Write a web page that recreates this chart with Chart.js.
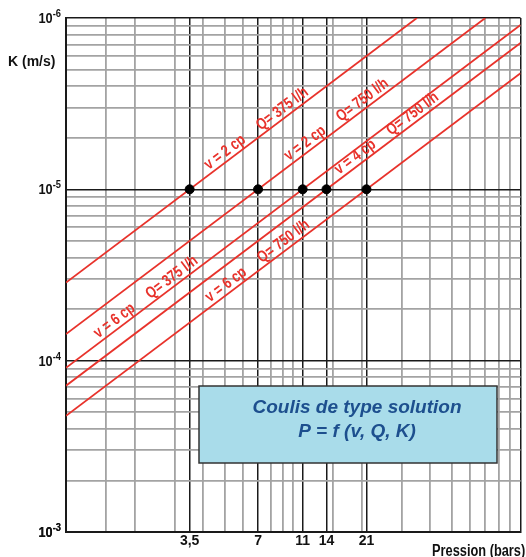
<!DOCTYPE html>
<html>
<head>
<meta charset="utf-8">
<script src="https://cdn.jsdelivr.net/npm/chart.js@4.4.1/dist/chart.umd.min.js"></script>
<style>
  html, body { margin: 0; padding: 0; background: #fff; }
  #wrap { width: 526px; height: 557px; }
</style>
</head>
<body>
<div id="wrap"><canvas id="chart" width="526" height="557"></canvas></div>
<script>
// Points where each curve crosses K = 1e-5
const dotPressure = [3.5, 7, 11, 14, 21];
const dotK = [1e-5, 1e-5, 1e-5, 1e-5, 1e-5];

// Red curves: endpoints (left edge -> top/right edge)
const lineStartP = [1, 1, 1, 1, 1];
const lineStartK = [3.5e-5, 7e-5, 1.1e-4, 1.4e-4, 2.1e-4];
const lineEndP = [35, 70, 100, 100, 100];
const lineEndK = [1e-6, 1e-6, 1.1e-6, 1.4e-6, 2.1e-6];
const lineLabels = [
    'v = 2 cp     Q= 375 l/h',
    'v = 2 cp     Q= 750 l/h',
    'v = 6 cp     Q= 375 l/h',
    'v = 4 cp     Q= 750 l/h',
    'v = 6 cp     Q= 750 l/h'
];
const labelStartP = [4.35, 9.8, 1.42, 16.3, 4.4];

// Axis ticks
const xGrid = [1, 1.5, 2, 3, 3.5, 4, 5, 6, 7, 8, 9, 10, 11, 14, 15, 20, 21, 30, 40, 50, 60, 70, 80, 90, 100];
const xLabelled = [3.5, 7, 11, 14, 21];
const xDark = [1, 3.5, 7, 11, 14, 21, 100];
const yDecades = [1e-6, 1e-5, 1e-4];
const yMantissas = [1, 2, 3, 4, 5, 6, 7, 8, 9];

const yGrid = [1e-3];
yDecades.forEach(d => yMantissas.forEach(m => yGrid.push(d * 10 / m)));
yGrid.push(1e-6);

const RED = '#e8322b';
const FONT = '"Liberation Sans", Arial, sans-serif';

function isPow10(v) {
    const l = Math.log10(v);
    return Math.abs(l - Math.round(l)) < 1e-9;
}

// draw text squeezed horizontally (narrow look)
function narrowText(ctx, txt, x, y, sx) {
    ctx.save();
    ctx.translate(x, y);
    ctx.scale(sx, 1);
    ctx.fillText(txt, 0, 0);
    ctx.restore();
}

const datasets = [{
    label: 'points',
    type: 'scatter',
    data: dotPressure.map((p, i) => ({ x: p, y: dotK[i] })),
    backgroundColor: '#000',
    borderColor: '#000',
    pointRadius: 4.5
}];
lineLabels.forEach((name, i) => {
    datasets.push({
        label: name,
        type: 'line',
        data: [{ x: lineStartP[i], y: lineStartK[i] }, { x: lineEndP[i], y: lineEndK[i] }],
        borderColor: RED,
        borderWidth: 1.8,
        pointRadius: 0,
        fill: false
    });
});

// extra drawing: line captions, y tick labels with exponents, titles, info box
const decorPlugin = {
    id: 'decor',
    afterDatasetsDraw(chart) {
        const { ctx, scales: { x, y } } = chart;
        ctx.save();
        ctx.fillStyle = RED;
        ctx.font = 'bold 16px ' + FONT;
        ctx.textAlign = 'left';
        ctx.textBaseline = 'alphabetic';
        lineLabels.forEach((txt, i) => {
            const x1 = x.getPixelForValue(lineStartP[i]), y1 = y.getPixelForValue(lineStartK[i]);
            const x2 = x.getPixelForValue(lineEndP[i]), y2 = y.getPixelForValue(lineEndK[i]);
            const ang = Math.atan2(y2 - y1, x2 - x1);
            const px = x.getPixelForValue(labelStartP[i]);
            const py = y1 + (px - x1) * (y2 - y1) / (x2 - x1);
            ctx.save();
            ctx.translate(px, py);
            ctx.rotate(ang);
            narrowText(ctx, txt, 0, -4, 0.8);
            ctx.restore();
        });
        ctx.restore();
    },
    afterDraw(chart) {
        const { ctx, scales: { y } } = chart;
        ctx.save();
        // y tick labels 10^n
        ctx.fillStyle = '#111';
        ctx.textBaseline = 'alphabetic';
        y.ticks.filter(t => isPow10(t.value)).forEach(t => {
            const py = y.getPixelForValue(t.value);
            const e = String(Math.round(Math.log10(t.value)));
            ctx.font = 'bold 11px ' + FONT;
            const ew = ctx.measureText(e).width * 0.85;
            ctx.font = 'bold 15px ' + FONT;
            const bw = ctx.measureText('10').width * 0.85;
            const right = y.right - 5;
            narrowText(ctx, '10', right - ew - bw, py + 5, 0.85);
            ctx.font = 'bold 11px ' + FONT;
            narrowText(ctx, e, right - ew, py - 1, 0.85);
        });
        // info box
        ctx.fillStyle = '#a9dcea';
        ctx.strokeStyle = '#333';
        ctx.lineWidth = 1.5;
        ctx.fillRect(199, 386, 298, 77);
        ctx.strokeRect(199, 386, 298, 77);
        ctx.fillStyle = '#1d4f8e';
        ctx.font = 'italic bold 19px ' + FONT;
        ctx.textAlign = 'center';
        ctx.textBaseline = 'middle';
        ctx.fillText('Coulis de type solution', 357, 408);
        ctx.fillText('P = f (v, Q, K)', 357, 432);
        // axis titles
        ctx.fillStyle = '#111';
        ctx.textAlign = 'left';
        ctx.font = 'bold 14px ' + FONT;
        ctx.fillText('K (m/s)', 8, 62);
        ctx.font = 'bold 16px ' + FONT;
        narrowText(ctx, 'Pression (bars)', 432, 552, 0.8);
        ctx.restore();
    }
};

new Chart(document.getElementById('chart'), {
    type: 'line',
    data: { datasets },
    options: {
        responsive: false,
        animation: false,
        devicePixelRatio: 1,
        layout: { padding: { left: 0, right: 2, top: 18, bottom: 0 } },
        plugins: { legend: { display: false }, tooltip: { enabled: false } },
        scales: {
            x: {
                type: 'logarithmic',
                min: 1,
                max: 100,
                afterBuildTicks: s => { s.ticks = xGrid.map(v => ({ value: v })); },
                afterFit: s => { s.height = 25; },
                ticks: {
                    autoSkip: false,
                    maxRotation: 0,
                    padding: 1,
                    color: '#111',
                    font: { family: FONT, size: 14, weight: 'bold' },
                    callback: v => xLabelled.includes(v) ? String(v).replace('.', ',') : ''
                },
                grid: {
                    drawTicks: false,
                    color: c => xDark.includes(c.tick.value) ? '#1a1a1a' : '#a3a3a3',
                    lineWidth: c => xDark.includes(c.tick.value) ? 1.5 : 1.8
                },
                border: { color: '#1a1a1a', width: 2 }
            },
            y: {
                type: 'logarithmic',
                reverse: true,
                min: 1e-6,
                max: 1e-3,
                afterBuildTicks: s => { s.ticks = yGrid.map(v => ({ value: v })); },
                afterFit: s => { s.width = 66; },
                ticks: { display: false },
                grid: {
                    drawTicks: false,
                    color: c => isPow10(c.tick.value) ? '#1a1a1a' : '#a3a3a3',
                    lineWidth: c => isPow10(c.tick.value) ? 1.5 : 1.8
                },
                border: { color: '#1a1a1a', width: 2 }
            }
        }
    },
    plugins: [decorPlugin]
});
</script>
</body>
</html>
